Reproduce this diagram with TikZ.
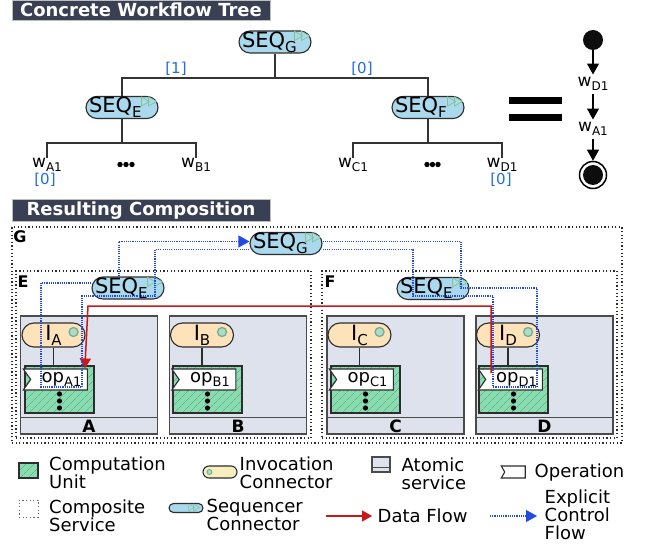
\documentclass[tikz,border=0pt]{standalone}
\usepackage{fontspec}
\setmainfont{DejaVu Sans}
\usetikzlibrary{arrows.meta,patterns.meta,shapes.symbols}
\definecolor{hdrc}{RGB}{58,64,84}
\definecolor{seqfill}{RGB}{170,216,236}
\definecolor{invfill}{RGB}{253,226,186}
\definecolor{invleg}{RGB}{246,238,190}
\definecolor{atfill}{RGB}{221,226,236}
\definecolor{cufill}{RGB}{136,220,176}
\definecolor{cuhatch}{RGB}{80,160,110}
\definecolor{bord}{RGB}{45,45,45}
\definecolor{atbord}{RGB}{75,75,75}
\definecolor{cfblue}{RGB}{35,75,225}
\definecolor{dfred}{RGB}{200,25,25}
\definecolor{idxblue}{RGB}{30,110,225}
\definecolor{trig}{RGB}{130,195,150}
\definecolor{ringc}{RGB}{110,175,155}
\definecolor{ringf}{RGB}{175,220,195}
\newcommand\fsz[1]{\fontsize{#1bp}{#1bp}\selectfont}
\newcommand\bigsub[2]{{\fsz{21}#1}\raisebox{-5bp}{\fsz{15}#2}}
\newcommand\wsub[2]{{\fsz{17}#1}\raisebox{-4bp}{\fsz{12}#2}}
\newcommand\opsub[2]{\hspace*{5bp}{\fsz{18}#1}\raisebox{-4bp}{\fsz{13}#2}}
\newcommand\seqtri[1]{\draw[tri] ([shift={(-17,1)}]#1.north east) -- ++(0,9) -- ++(8,-4.5) -- cycle ([shift={(-10,1)}]#1.north east) -- ++(0,9) -- ++(8,-4.5) -- cycle;}
\newcommand\invdot[1]{\draw[ring] ([shift={(-12,-3)}]#1.east) circle[radius=4.5bp];}
\tikzset{
  seqbox/.style={draw=bord, line width=1.1bp, fill=seqfill, rounded corners=11bp, minimum width=72bp, minimum height=22bp, inner sep=0pt},
  seq/.style={seqbox, text width=66bp, align=left},
  tri/.style={draw=trig, line width=0.7bp, fill=seqfill},
  ring/.style={draw=ringc, line width=1.3bp, fill=ringf},
  inv/.style={draw=bord, line width=1.1bp, fill=invfill, rounded corners=12bp, minimum width=63bp, minimum height=24bp, inner sep=0pt},
  atomic/.style={draw=atbord, line width=1.4bp, fill=atfill, minimum width=137bp, minimum height=118bp, inner sep=0pt},
  band/.style={draw=atbord, line width=1.4bp},
  cu/.style={draw=bord, line width=1.3bp, preaction={fill=cufill}, pattern={Lines[angle=45,distance=6bp,line width=0.5bp]}, pattern color=cuhatch, minimum width=69bp, minimum height=47bp, inner sep=0pt},
  op/.style={shape=signal, signal to=nowhere, signal from=west, signal pointer angle=110, draw=bord, line width=1.1bp, fill=white, minimum width=64bp, minimum height=21bp, inner sep=0pt},
  comp/.style={draw=bord, line width=1.2bp, dash pattern=on 1.2bp off 2.4bp, inner sep=0pt},
  lbl/.style={font=\fsz{16}\bfseries, inner sep=0pt},
  slbl/.style={font=\fsz{17}\bfseries, inner sep=0pt},
  hdr/.style={fill=hdrc, draw=black!25, line width=0.8bp, text=white, font=\fsz{18}\bfseries, minimum width=258bp, inner sep=0pt},
  tree/.style={draw=black!80, line width=1.2bp},
  conn/.style={draw=bord, line width=1.2bp},
  wlab/.style={inner sep=1bp},
  wlabc/.style={inner sep=3bp},
  idx/.style={text=idxblue, font=\fsz{15}, inner sep=0pt},
  df/.style={draw=dfred, line width=1.5bp, -{Triangle[width=11bp,length=10bp]}},
  cf/.style={draw=cfblue, line width=1.1bp, dash pattern=on 1.1bp off 1.1bp},
  cfar/.style={cf, -{Triangle[width=12bp,length=11bp]}},
  blk/.style={draw=black, line width=1.2bp, -{Triangle[width=12bp,length=11bp]}},
  leg/.style={font=\fsz{18}, align=left, anchor=west, inner sep=0pt},
}
\newcommand\service[5]{%
  \node[atomic] (sv#1) at (#2,375) {};
  \draw[band] ([yshift=17bp]sv#1.south west) -- ([yshift=17bp]sv#1.south east);
  \node[slbl] (lab#1) at ([yshift=8.5bp]sv#1.south) {#1};
  \node[inv] (inv#1) at (#3,335) {\bigsub{I}{#1}};
  \invdot{inv#1}
  \node[cu] (cu#1) at (#4,389.5) {};
  \draw[conn] (inv#1.south) -- (inv#1.south |- cu#1.north);
  \node[op] (op#1) at (#5,379.5) {\opsub{op}{#11}};
  \foreach \dy in {4.5,11.5,18.5} \fill ([shift={(0,\dy)}]cu#1.center) circle[radius=2.6bp];
}
\begin{document}
\begin{tikzpicture}[x=1bp,y=-1bp]
\useasboundingbox[fill=white] (0,0) rectangle (648,547);
% headers
\node[hdr, minimum height=20bp] (h1) at (141,10) {Concrete Workflow Tree};
\node[hdr, minimum height=22bp] (h2) at (141,210.5) {Resulting Composition};
% tree
\node[seq] (tG) at (275,42) {\bigsub{SEQ}{G}}; \seqtri{tG}
\node[seq] (tE) at (122,107.5) {\bigsub{SEQ}{E}}; \seqtri{tE}
\node[seq] (tF) at (428,107.5) {\bigsub{SEQ}{F}}; \seqtri{tF}
\coordinate (jG) at (275,78);
\draw[tree] (tG.south) -- (jG);
\draw[tree] (tE.north) |- (jG) -| (tF.north);
\node[idx] (i1) at (176,69) {[1]};
\node[idx] (i0) at (362,69) {[0]};
\node[wlab, anchor=base] (wA1) at (47,168) {\wsub{w}{A1}};
\node[wlab, anchor=base] (wB1) at (196,168) {\wsub{w}{B1}};
\node[wlab, anchor=base] (wC1) at (353,168) {\wsub{w}{C1}};
\node[wlab, anchor=base] (wD1) at (502,168) {\wsub{w}{D1}};
\coordinate (jE) at (122,143);
\coordinate (jF) at (428,143);
\draw[tree] (tE.south) -- (jE);
\draw[tree] (wA1.north) |- (jE) -| (wB1.north);
\draw[tree] (tF.south) -- (jF);
\draw[tree] (wC1.north) |- (jF) -| (wD1.north);
\foreach \x in {120,126,132,427,432.5,438} \fill (\x,164.5) circle[radius=2.7bp];
\node[idx] (i0a) at (45,180) {[0]};
\node[idx] (i0b) at (501,180) {[0]};
% equals
\fill (509,97) rectangle (562,104);
\fill (509,114) rectangle (562,121);
% chain
\node[circle, fill=black!95, minimum size=20bp, inner sep=0pt] (st) at (593,40) {};
\node[wlabc, anchor=base] (cD) at (593,87) {\wsub{w}{D1}};
\node[wlabc, anchor=base] (cA) at (593,132) {\wsub{w}{A1}};
\node[circle, draw=black, line width=1.5bp, minimum size=27bp, inner sep=0pt] (en) at (593,175) {};
\fill[black!95] (en.center) circle[radius=10bp];
\draw[blk] (st) -- (cD);
\draw[blk] (cD) -- (cA);
\draw[blk] (cA) -- (en);
% composition
\node[comp, minimum width=610bp, minimum height=216bp] (Gb) at (317,335) {};
\node[comp, minimum width=295bp, minimum height=167bp] (Eb) at (163.5,354.5) {};
\node[comp, minimum width=295bp, minimum height=167bp] (Fb) at (469.5,354.5) {};
\node[lbl] (lG) at (20,237) {G};
\node[lbl] (lE) at (23,282) {E};
\node[lbl] (lF) at (330,282) {F};
\service{A}{89}{53.5}{59.5}{59}
\service{B}{238}{202}{207.5}{207.5}
\service{C}{395.5}{359.5}{365.5}{365}
\service{D}{544.5}{508}{513.5}{514}
\node[seq] (cG) at (286,243.5) {\bigsub{SEQ}{G}}; \seqtri{cG}
\node[seq] (cE) at (128,288) {\bigsub{SEQ}{E}}; \seqtri{cE}
\node[seq] (cF) at (433,288.5) {\bigsub{SEQ}{E}}; \seqtri{cF}
% data flow
\coordinate (dS) at ([shift={(6,-6.5)}]opD.west);
\draw[df] (dS) |- (88,306) -- ([xshift=-3bp]opA.north east);
% control flow
\draw[cfar] ([xshift=-9bp]cE.north) |- ([yshift=2bp]cG.west);
\draw[cf] ([yshift=-6bp]cG.west) -| (155,296) -- (82,296) |- (41,387) |- ([yshift=5bp]cE.west);
\draw[cf] ([yshift=2bp]cG.east) -| (461,288) -- (537,288) |- (493,387) |- (413,296) |- ([yshift=-6bp]cG.east);
% legend
\node[cu, minimum width=19bp, minimum height=15bp] (lgCU) at (28.5,470.5) {};
\node[leg] (ltCU) at (49,472.5) {Computation\\Unit};
\node[inv, minimum width=34bp, minimum height=12bp, rounded corners=6bp, fill=invleg] (lgInv) at (220,472) {};
\draw[ring, line width=0.9bp] ([xshift=7bp]lgInv.west) circle[radius=2.5bp];
\node[leg] (ltInv) at (239.5,472.5) {Invocation\\Connector};
\node[atomic, minimum width=18bp, minimum height=15bp, line width=1.2bp] (lgAt) at (381,464.5) {};
\draw[band, line width=1.2bp] ([yshift=5bp]lgAt.south west) -- ([yshift=5bp]lgAt.south east);
\node[leg] (ltAt) at (401.5,473.5) {Atomic\\service};
\node[op, minimum width=24bp, minimum height=12bp, signal pointer angle=120] (lgOp) at (515,472) {};
\node[leg] (ltOp) at (534.5,472.5) {Operation};
\node[comp, minimum width=19bp, minimum height=17bp, line width=0.9bp, draw=black!60] (lgComp) at (28.5,508.5) {};
\node[leg] (ltComp) at (49,515.5) {Composite\\Service};
\node[seqbox, minimum width=34bp, minimum height=9bp, rounded corners=4.5bp] (lgSeq) at (186,508) {};
\draw[tri, line width=0.5bp] ([shift={(-15,1)}]lgSeq.north east) -- ++(0,7) -- ++(6,-3.5) -- cycle ([shift={(-10,1)}]lgSeq.north east) -- ++(0,7) -- ++(6,-3.5) -- cycle;
\node[leg] (ltSeq) at (206.5,514.5) {Sequencer\\Connector};
\coordinate (lgD1) at (326,516);
\coordinate (lgD2) at (372,516);
\draw[df] (lgD1) -- (lgD2);
\node[leg] (ltD) at (377.5,516) {Data Flow};
\coordinate (lgC1) at (490,516);
\coordinate (lgC2) at (537,516);
\draw[cfar] (lgC1) -- (lgC2);
\node[leg] (ltC) at (544.5,515) {Explicit\\Control\\Flow};
\end{tikzpicture}
\end{document}
